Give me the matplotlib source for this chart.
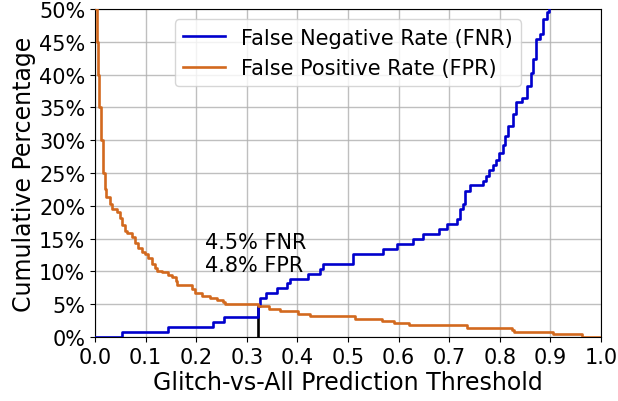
import matplotlib
matplotlib.use("Agg")
import matplotlib.pyplot as plt
from matplotlib.ticker import PercentFormatter

# FNR step data (threshold, percent)
fnr_thr = [0.0, 0.054, 0.144, 0.234, 0.254, 0.322, 0.327, 0.338, 0.360, 0.379,
           0.385, 0.420, 0.445, 0.451, 0.510, 0.570, 0.596, 0.629, 0.649, 0.680,
           0.695, 0.715, 0.721, 0.727, 0.731, 0.741, 0.766, 0.773, 0.779, 0.786,
           0.7925, 0.799, 0.806, 0.810, 0.817, 0.827, 0.833, 0.843, 0.853, 0.861,
           0.866, 0.8715, 0.879, 0.885, 0.893, 0.898, 0.91]
fnr_val = [0.0, 0.72, 1.5, 2.3, 3.0, 4.8, 6.0, 6.7, 7.4, 8.3,
           8.9, 9.6, 10.4, 11.1, 12.65, 13.4, 14.2, 14.9, 15.7, 16.5,
           17.2, 18.0, 19.5, 20.3, 22.3, 23.2, 23.8, 24.6, 25.4, 26.2,
           27.0, 28.0, 29.2, 30.7, 32.1, 34.0, 35.8, 36.5, 38.3, 40.3,
           42.4, 45.4, 46.2, 48.5, 49.5, 51.0, 56.0]

# FPR step data (threshold, percent)
fpr_thr = [0.0, 0.0014, 0.0045, 0.0065, 0.0085, 0.0119, 0.0152, 0.0198, 0.0217,
           0.0296, 0.033, 0.0428, 0.0494, 0.0527, 0.0593, 0.0626, 0.0725, 0.079,
           0.0856, 0.0922, 0.0988, 0.1054, 0.112, 0.1186, 0.1219, 0.1318, 0.1449,
           0.1515, 0.160, 0.1627, 0.191, 0.1976, 0.211, 0.227, 0.2405, 0.2536,
           0.257, 0.322, 0.343, 0.3656, 0.401, 0.425, 0.514, 0.567, 0.590, 0.621,
           0.7345, 0.8235, 0.828, 0.906, 0.962, 1.0]
fpr_val = [100.0, 50.0, 45.0, 40.0, 35.0, 30.0, 25.0, 22.6, 21.3,
           20.3, 19.5, 19.0, 18.2, 17.0, 16.2, 15.8, 15.3, 14.4,
           13.5, 13.0, 12.65, 12.1, 11.1, 10.5, 10.1, 9.9, 9.45,
           9.1, 8.6, 7.9, 7.3, 6.7, 6.3, 5.9, 5.7, 5.3,
           5.1, 4.8, 4.3, 3.9, 3.5, 3.15, 2.75, 2.45, 2.1, 1.8,
           1.4, 1.0, 0.7, 0.4, 0.0, 0.0]

chosen_thr = 0.322
chosen_fnr = 4.5
chosen_fpr = 4.8

x_ticks = [0.0, 0.1, 0.2, 0.3, 0.4, 0.5, 0.6, 0.7, 0.8, 0.9, 1.0]
y_ticks = [0, 5, 10, 15, 20, 25, 30, 35, 40, 45, 50]

fig = plt.figure(figsize=(6.18, 4.02), dpi=100)
ax = fig.add_axes([0.1537, 0.1592, 0.8188, 0.816])

ax.plot(fnr_thr, fnr_val, drawstyle='steps-post', color='#0000cd', lw=1.9,
        label='False Negative Rate (FNR)', zorder=3)
ax.plot(fpr_thr, fpr_val, drawstyle='steps-post', color='#d2691e', lw=1.9,
        label='False Positive Rate (FPR)', zorder=3)
ax.plot([chosen_thr, chosen_thr], [0, chosen_fnr], color='black', lw=1.9, zorder=2)

ax.text(0.217, 12.7, f"{chosen_fnr}% FNR\n{chosen_fpr}% FPR", fontsize=15,
        ha='left', va='center', linespacing=1.15)

ax.set_xlim(0, 1)
ax.set_ylim(0, 50)
ax.set_xticks(x_ticks)
ax.set_yticks(y_ticks)
ax.yaxis.set_major_formatter(PercentFormatter(decimals=0))
ax.tick_params(labelsize=15)
ax.grid(True, color='#b0b0b0', lw=1.0, alpha=0.8)
ax.set_axisbelow(True)
ax.set_xlabel('Glitch-vs-All Prediction Threshold', fontsize=17, labelpad=2)
ax.set_ylabel('Cumulative Percentage', fontsize=17, labelpad=2)
ax.legend(loc='upper center', fontsize=15)

fig.savefig('out.png', dpi=100)
